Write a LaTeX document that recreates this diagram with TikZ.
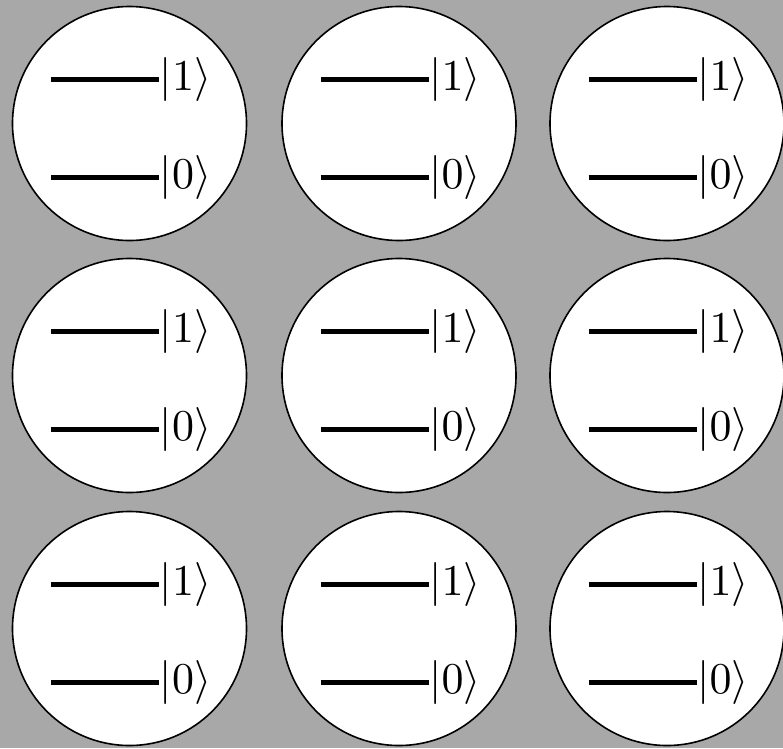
\documentclass[tikz,border=0pt]{standalone}
\usepackage{amsmath}
\definecolor{bggrey}{RGB}{168,168,168}
\tikzset{
  qubit/.style={circle, draw=black, fill=white, line width=1.6pt, minimum size=234pt, inner sep=0pt},
  level/.style={line width=5pt},
  ket/.style={anchor=west, inner sep=0pt, scale=4.4}
}
\begin{document}
\begin{tikzpicture}[x=1pt,y=-1pt]
\fill[bggrey] (0,0) rectangle (783,748);
\useasboundingbox (0,0) rectangle (783,748);
\foreach \cx [count=\i] in {129.5,399,667} {
  \foreach \cy [count=\j] in {123.5,375.5,628.5} {
    \node[qubit] (q\i\j) at (\cx,\cy) {};
    \coordinate (ua\i\j) at (\cx-78.5,\cy-44.5);
    \coordinate (ub\i\j) at (\cx+29.5,\cy-44.5);
    \coordinate (la\i\j) at (\cx-78.5,\cy+53.5);
    \coordinate (lb\i\j) at (\cx+29.5,\cy+53.5);
    \draw[level] (ua\i\j) -- (ub\i\j);
    \draw[level] (la\i\j) -- (lb\i\j);
    \node[ket] (k1\i\j) at (ub\i\j) {$|1\rangle$};
    \node[ket] (k0\i\j) at (lb\i\j) {$|0\rangle$};
  }
}
\end{tikzpicture}
\end{document}
